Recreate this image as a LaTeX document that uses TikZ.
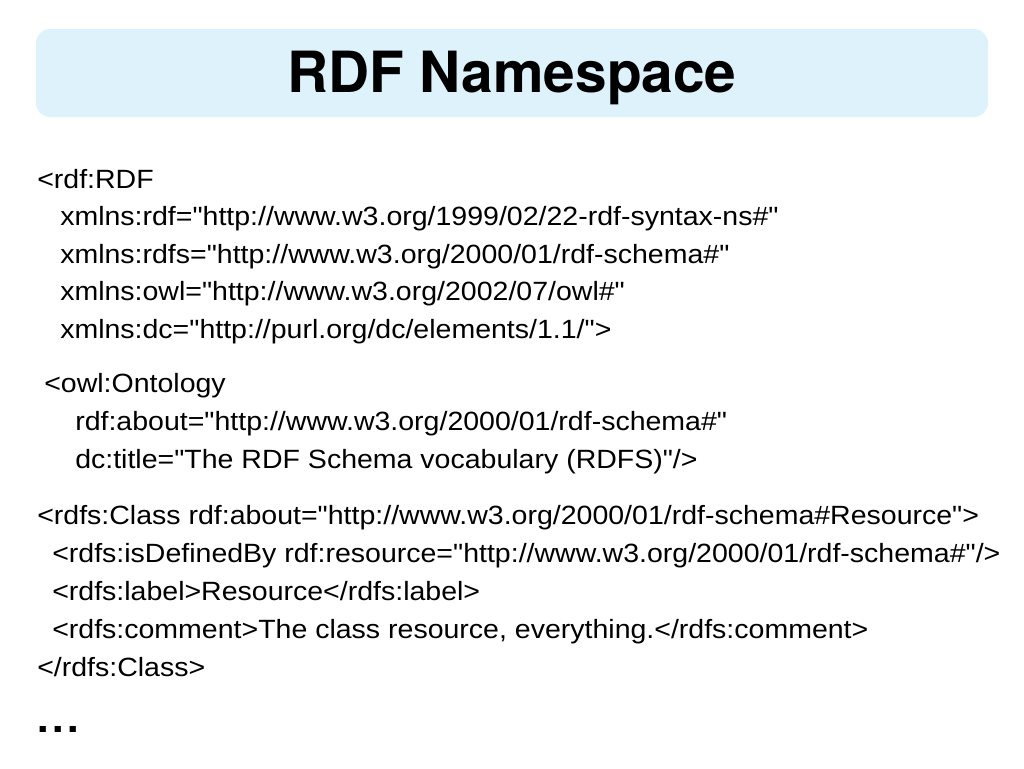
\documentclass[tikz,border=0pt]{standalone}
\usepackage{fontspec}
\setmainfont{TeX Gyre Heros}
\newfontfamily\codefont[FakeStretch=1.08]{Liberation Sans}
\usetikzlibrary{positioning}
\definecolor{titleblue}{RGB}{222,242,252}
\tikzset
{
    titlebox/.style = {fill=titleblue, rounded corners=14*0.75pt},
    titletext/.style = {anchor=base, inner sep=0pt, font=\fontsize{42.6}{43}\selectfont\bfseries},
    codeline/.style = {anchor=base west, inner sep=0pt, font=\codefont\fontsize{19.8}{19.8}\selectfont},
    dotsline/.style = {anchor=base west, inner sep=0pt, font=\fontsize{31}{31}\selectfont\bfseries}
}
\begin{document}
\begin{tikzpicture}
	[x=0.75pt, y=-0.75pt]
	\useasboundingbox (0,0) rectangle (1024,768);
	\fill[white] (0,0) rectangle (1024,768);
	% title
	\fill[titlebox] (36,29) rectangle (988,117);
	\node[titletext] (title) at (512,92) {RDF Namespace};
	% rdf:RDF
	\node[codeline] (rdf) at (37,188) {<rdf:RDF};
	\node[codeline] (nsrdf) at (60,225) {xmlns:rdf="http://www.w3.org/1999/02/22-rdf-syntax-ns\#"};
	\node[codeline] (nsrdfs) at (60,263) {xmlns:rdfs="http://www.w3.org/2000/01/rdf-schema\#"};
	\node[codeline] (nsowl) at (60,300) {xmlns:owl="http://www.w3.org/2002/07/owl\#"};
	\node[codeline] (nsdc) at (60,338) {xmlns:dc="http://purl.org/dc/elements/1.1/">};
	% owl:Ontology
	\node[codeline] (onto) at (44,392) {<owl:Ontology};
	\node[codeline] (about) at (75,430) {rdf:about="http://www.w3.org/2000/01/rdf-schema\#"};
	\node[codeline] (dctitle) at (75,468) {dc:title="The RDF Schema vocabulary (RDFS)"/>};
	% rdfs:Class
	\node[codeline] (class) at (37,524) {<rdfs:Class rdf:about="http://www.w3.org/2000/01/rdf-schema\#Resource">};
	\node[codeline] (defby) at (52,562) {<rdfs:isDefinedBy rdf:resource="http://www.w3.org/2000/01/rdf-schema\#"/>};
	\node[codeline] (label) at (52,600) {<rdfs:label>Resource</rdfs:label>};
	\node[codeline] (comment) at (52,638) {<rdfs:comment>The class resource, everything.</rdfs:comment>};
	\node[codeline] (endclass) at (37,676) {</rdfs:Class>};
	\node[dotsline] (dots) at (37,732) {.\kern2.6pt.\kern2.6pt.};
\end{tikzpicture}
\end{document}
